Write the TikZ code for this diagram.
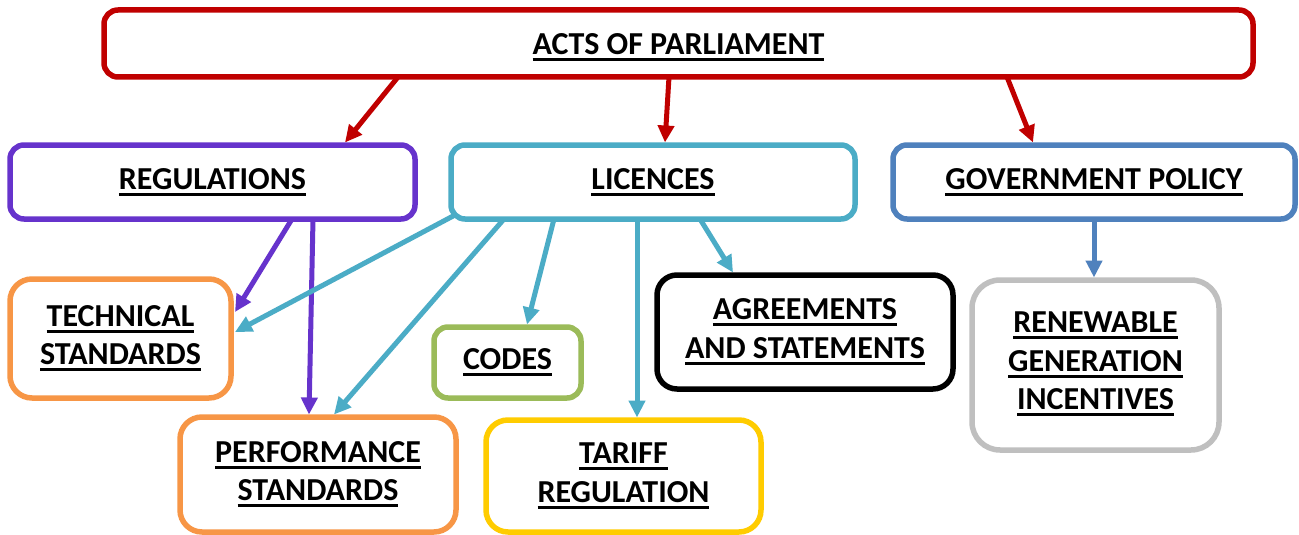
\documentclass[tikz,border=0pt]{standalone}
\usepackage{fontspec}
\setmainfont{Carlito}
\usetikzlibrary{arrows.meta,backgrounds}
\definecolor{cred}{HTML}{C00000}
\definecolor{cpurple}{HTML}{6633CC}
\definecolor{cteal}{HTML}{4BACC6}
\definecolor{cblue}{HTML}{4F81BD}
\definecolor{corange}{HTML}{F79646}
\definecolor{cgreen}{HTML}{9BBB59}
\definecolor{cyellow}{HTML}{FFCC00}
\definecolor{cgray}{HTML}{BFBFBF}
\newcommand\ulin[1]{\setbox0=\hbox{#1}\rlap{\rule[-6.5pt]{\wd0}{3pt}}\box0}
\tikzset{
  box/.style={draw, fill=white, line width=5.5pt, rounded corners=14pt, outer sep=0pt, inner sep=0pt,
    align=center, font=\bfseries\fontsize{32}{38.5}\selectfont},
  conn/.style={line width=5pt, -{Triangle[length=17pt,width=16pt]}}
}
\begin{document}
\begin{tikzpicture}[x=1pt,y=-1pt]
\useasboundingbox (0,0) rectangle (1299,535);
\node[box, draw=cred, minimum width=1149pt, minimum height=67pt] (acts) at (678.5,43.5) {\raisebox{-3.5pt}[\height][\depth]{\ulin{ACTS OF PARLIAMENT}}};
\node[box, draw=cpurple, minimum width=405pt, minimum height=74pt] (regs) at (212.5,182) {\ulin{REGULATIONS}};
\node[box, draw=cteal, minimum width=404pt, minimum height=74pt] (lic) at (653,182) {\ulin{LICENCES}};
\node[box, draw=cblue, minimum width=402pt, minimum height=74pt] (gov) at (1094,182) {\ulin{GOVERNMENT POLICY}};
\node[box, draw=corange, rounded corners=22pt, minimum width=221pt, minimum height=119pt] (tech) at (120.5,338.5) {\ulin{TECHNICAL}\\\ulin{STANDARDS}};
\node[box, draw=corange, rounded corners=22pt, minimum width=276pt, minimum height=115pt] (perf) at (318,474.5) {\ulin{PERFORMANCE}\\\ulin{STANDARDS}};
\node[box, draw=cgreen, minimum width=147pt, minimum height=71pt] (codes) at (507.5,362.5) {\ulin{CODES}};
\node[box, draw=cyellow, rounded corners=22pt, minimum width=275pt, minimum height=112pt] (tariff) at (623.5,476) {\ulin{TARIFF}\\\ulin{REGULATION}};
\node[box, draw=black, rounded corners=20pt, minimum width=296pt, minimum height=114pt] (agree) at (805,332) {\ulin{AGREEMENTS}\\\ulin{AND STATEMENTS}};
\node[box, draw=cgray, rounded corners=28pt, minimum width=247pt, minimum height=170pt] (ren) at (1095.5,365) {\ulin{RENEWABLE}\\\ulin{GENERATION}\\\ulin{INCENTIVES}\\[-30pt]};
\begin{scope}[on background layer]
\fill[white] (0,0) rectangle (1299,535);
\draw[conn, cred] ([xshift=294pt]acts.south west) -- ([xshift=335pt,yshift=2.5pt]regs.north west);
\draw[conn, cred] ([xshift=565pt]acts.south west) -- ([xshift=214pt,yshift=2.5pt]lic.north west);
\draw[conn, cred] ([xshift=903pt]acts.south west) -- ([xshift=140pt,yshift=2.5pt]gov.north west);
\draw[conn, cpurple] ([xshift=282pt]regs.south west) -- ([xshift=4pt,yshift=-33pt]tech.north east);
\draw[conn, cpurple] ([xshift=303pt]regs.south west) -- ([xshift=129pt,yshift=2.5pt]perf.north west);
\draw[conn, cteal] ([xshift=4pt,yshift=4pt]lic.south west) -- ([xshift=4pt,yshift=-53pt]tech.north east);
\draw[conn, cteal] ([xshift=53pt]lic.south west) -- ([xshift=154pt,yshift=2.5pt]perf.north west);
\draw[conn, cteal] ([xshift=103pt]lic.south west) -- ([xshift=93pt,yshift=2.5pt]codes.north west);
\draw[conn, cteal] ([xshift=186pt]lic.south west) -- ([xshift=151pt,yshift=2.5pt]tariff.north west);
\draw[conn, cteal] ([xshift=249pt]lic.south west) -- ([xshift=76pt,yshift=2.5pt]agree.north west);
\draw[conn, cblue] ([xshift=201pt]gov.south west) -- ([xshift=122pt,yshift=2.5pt]ren.north west);
\end{scope}
\end{tikzpicture}
\end{document}
